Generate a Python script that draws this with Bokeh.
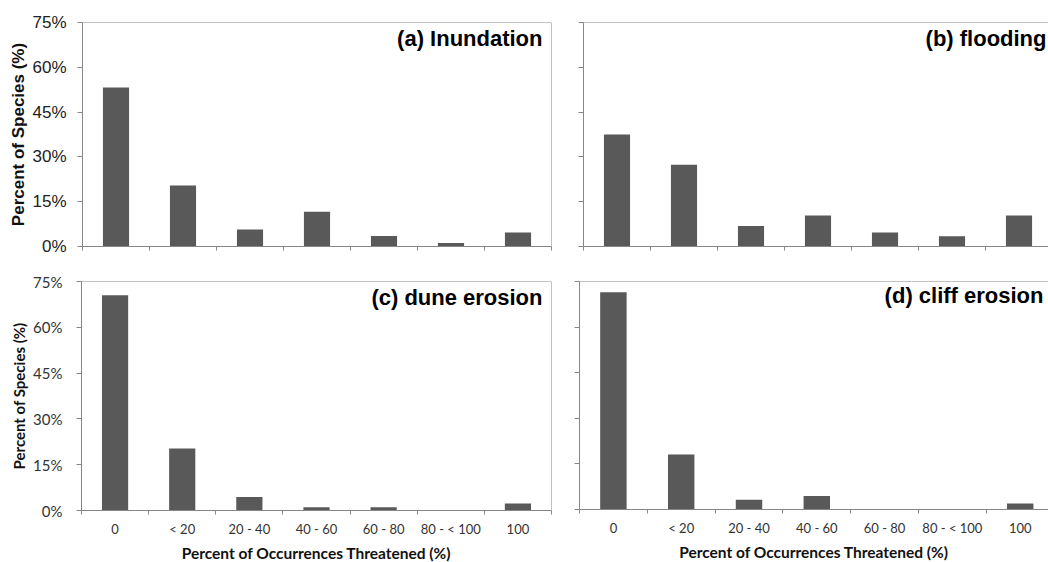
from bokeh.plotting import figure
from bokeh.layouts import column, row
from bokeh.models import FixedTicker, PrintfTickFormatter, Range1d, Label, Span
from bokeh.embed import file_html
from bokeh.resources import INLINE

categories = ["0", "< 20", "20 - 40", "40 - 60", "60 - 80", "80 - < 100", "100"]
inundation = [53.2, 20.4, 5.7, 11.6, 3.5, 1.2, 4.7]
flooding = [37.5, 27.4, 6.9, 10.4, 4.7, 3.4, 10.4]
dune_erosion = [70.5, 20.3, 4.4, 1.1, 1.1, 0.0, 2.3]
cliff_erosion = [71.5, 18.1, 3.2, 4.4, 0.0, 0.0, 2.0]
y_ticks = [0, 15, 30, 45, 60, 75]
titles = ["(a) Inundation", "(b) flooding", "(c) dune erosion", "(d) cliff erosion"]
y_title = "Percent of Species (%)"
x_title = "Percent of Occurrences Threatened (%)"

BAR = "#595959"
AX = "#868686"


def make_panel(values, title, fw, fh, bl, br, bt, bb, x_end, right_border,
               show_y_labels, show_x_labels, font, tick_size, lab_size,
               y_standoff, y_lab_standoff, title_dx, title_dy, tick_color):
    p = figure(frame_width=fw, frame_height=fh,
               min_border_left=bl, min_border_right=br,
               min_border_top=bt, min_border_bottom=bb,
               x_range=Range1d(0, x_end), y_range=Range1d(0, 75),
               output_backend="svg", toolbar_location=None, tools="")
    centers = [i + 0.5 for i in range(len(categories))]
    p.vbar(x=centers, top=values, width=0.39, fill_color=BAR, line_color=None)
    p.xgrid.visible = False
    p.ygrid.visible = False
    p.outline_line_color = None
    p.background_fill_color = "white"
    p.border_fill_color = "white"

    bounds = list(range(len(categories) + 1))
    xa = p.xaxis[0]
    xa.axis_line_color = AX
    xa.major_tick_line_color = None
    xa.minor_tick_line_color = AX
    xa.minor_tick_in = 0
    xa.minor_tick_out = 4
    xa.major_tick_in = 0
    if show_x_labels:
        xa.ticker = FixedTicker(ticks=centers, minor_ticks=bounds)
        xa.major_tick_out = 4
        xa.major_label_overrides = {c: lab for c, lab in zip(centers, categories)}
        xa.major_label_text_font = font
        xa.major_label_text_font_size = "13px"
        xa.major_label_text_color = tick_color
        xa.major_label_standoff = 6
        xa.axis_label = x_title
        xa.axis_label_text_font = font
        xa.axis_label_text_font_size = "15.5px"
        xa.axis_label_text_font_style = "bold"
        xa.axis_label_text_color = "#111111"
        xa.axis_label_standoff = 4
    else:
        xa.ticker = FixedTicker(ticks=[], minor_ticks=bounds)
        xa.major_tick_out = 0

    ya = p.yaxis[0]
    ya.axis_line_color = AX
    ya.major_tick_line_color = AX
    ya.major_tick_in = 0
    ya.major_tick_out = 5
    ya.minor_tick_in = 0
    ya.minor_tick_out = 5
    if show_y_labels:
        ya.ticker = FixedTicker(ticks=y_ticks)
        ya.formatter = PrintfTickFormatter(format="%d%%")
        ya.minor_tick_line_color = None
        ya.major_label_text_font = font
        ya.major_label_text_font_size = tick_size
        ya.major_label_text_color = tick_color
        ya.major_label_standoff = y_standoff
        ya.axis_label = y_title
        ya.axis_label_text_font = font
        ya.axis_label_text_font_size = lab_size
        ya.axis_label_text_font_style = "bold"
        ya.axis_label_text_color = "#111111"
        ya.axis_label_standoff = y_lab_standoff
    else:
        ya.ticker = FixedTicker(ticks=[], minor_ticks=y_ticks)
        ya.minor_tick_line_color = AX
        ya.major_tick_out = 0

    p.add_layout(Span(location=75, dimension="width", line_color=AX, line_width=1))
    if right_border:
        p.add_layout(Span(location=len(categories), dimension="height",
                          line_color=AX, line_width=1))

    p.add_layout(Label(x=fw - title_dx, y=fh - title_dy, x_units="screen", y_units="screen",
                       text=title, text_align="right", text_baseline="middle",
                       text_font="Liberation Sans", text_font_size="22px",
                       text_font_style="bold", text_color="black"))
    return p


pa = make_panel(inundation, titles[0], 469, 224, 82, 10, 22, 10, 7, True,
                True, False, "Liberation Sans", "17px", "17px", 11, 1, 9, 16, "#222222")
pb = make_panel(flooding, titles[1], 465, 224, 22, 0, 22, 10, 465 / 67.0, False,
                False, False, "Liberation Sans", "17px", "17px", 11, 1, 2, 16, "#222222")
pc = make_panel(dune_erosion, titles[2], 470, 229, 81, 10, 23, 54, 7, True,
                True, True, "Lato", "15px", "15px", 14, 2, 9, 15.5, "#333333")
pd = make_panel(cliff_erosion, titles[3], 469, 228, 18, 0, 25, 53, 469 / 67.8, False,
                False, True, "Lato", "15px", "15px", 14, 2, 5, 14, "#333333")

layout = column(row(pa, pb), row(pc, pd))

open("out.html", "w").write(file_html(layout, INLINE))
